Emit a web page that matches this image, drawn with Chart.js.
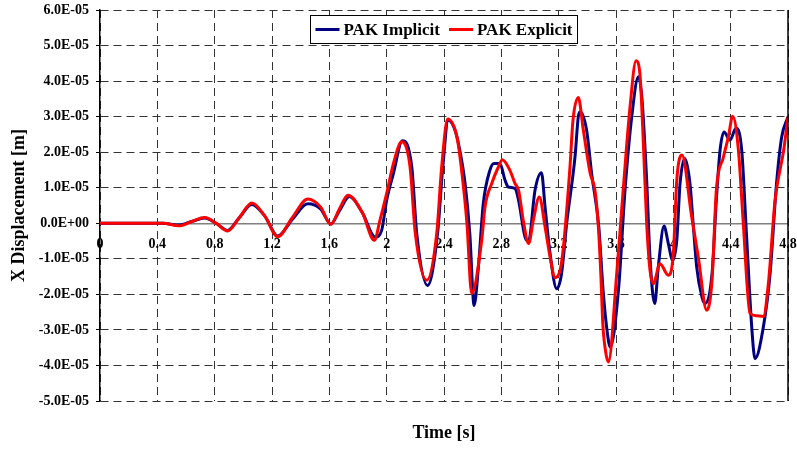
<!DOCTYPE html>
<html>
<head>
<meta charset="utf-8">
<title>X Displacement</title>
<script src="https://cdn.jsdelivr.net/npm/chart.js@4.4.1/dist/chart.umd.min.js"></script>
<style>
  body { margin: 0; background: #fff; }
  #chart { display: block; }
</style>
</head>
<body>
<canvas id="chart" width="797" height="450"></canvas>
<script>
const seriesNames = ["PAK Implicit", "PAK Explicit"];

// PAK Implicit - time [s] / displacement [m]
const timeImplicit = [0, 0.44, 0.55, 0.64, 0.73, 0.81, 0.89, 0.97, 1.06, 1.15, 1.24, 1.34, 1.45, 1.54, 1.61, 1.67, 1.74, 1.83, 1.92, 1.965,
    2.0, 2.047, 2.11, 2.175, 2.21, 2.285, 2.355, 2.39, 2.43, 2.477, 2.51, 2.547, 2.58, 2.61, 2.64, 2.674, 2.72, 2.749, 2.79, 2.826,
    2.849, 2.895, 2.92, 2.965, 2.99, 3.035, 3.08, 3.105, 3.14, 3.186, 3.22, 3.256, 3.314, 3.337, 3.35, 3.395, 3.43, 3.48, 3.51, 3.54,
    3.56, 3.617, 3.663, 3.71, 3.756, 3.78, 3.814, 3.837, 3.87, 3.895, 3.935, 3.965, 3.995, 4.024, 4.047, 4.08, 4.116, 4.14, 4.163, 4.2,
    4.22, 4.27, 4.3, 4.326, 4.354, 4.395, 4.437, 4.477, 4.51, 4.547, 4.57, 4.628, 4.675, 4.72, 4.756, 4.8];
const dispImplicit = [0, 0, -0.05e-5, 0.05e-5, 0.15e-5, 0, -0.2e-5, 0.15e-5, 0.53e-5, 0.2e-5, -0.36e-5, 0.1e-5, 0.55e-5, 0.4e-5, -0.02e-5, 0.35e-5, 0.75e-5, 0.3e-5, -0.39e-5, -0.2e-5,
    0.65e-5, 1.4e-5, 2.32e-5, 1.59e-5, -0.29e-5, -1.75e-5, -0.3e-5, 1.5e-5, 2.9e-5, 2.62e-5, 2.06e-5, 1.12e-5, -0.29e-5, -2.31e-5, -1.23e-5, 0.55e-5, 1.49e-5, 1.68e-5, 1.68e-5, 1.21e-5,
    1.02e-5, 0.98e-5, 0.65e-5, -0.38e-5, -0.5e-5, 0.93e-5, 1.42e-5, 0.46e-5, -0.85e-5, -1.84e-5, -1.42e-5, 0, 1.87e-5, 3.0e-5, 3.14e-5, 2.62e-5, 1.4e-5, -0.1e-5, -1.89e-5, -3.1e-5,
    -3.48e-5, -1.89e-5, 0.93e-5, 3.0e-5, 4.12e-5, 3.56e-5, 1.21e-5, -0.95e-5, -2.26e-5, -1.23e-5, -0.08e-5, -0.57e-5, -1.04e-5, -0.48e-5, 1.12e-5, 1.82e-5, 1.12e-5, -0.1e-5, -1.23e-5, -2.08e-5,
    -2.26e-5, -1.42e-5, 0.65e-5, 2.06e-5, 2.57e-5, 2.34e-5, 2.67e-5, 2.06e-5, -0.29e-5, -2.92e-5, -3.81e-5, -2.92e-5, -1.42e-5, 1.12e-5, 2.43e-5, 3.0e-5];

// PAK Explicit - time [s] / displacement [m]
const timeExplicit = [0, 0.44, 0.55, 0.64, 0.73, 0.81, 0.89, 0.97, 1.06, 1.15, 1.24, 1.34, 1.45, 1.54, 1.61, 1.67, 1.73, 1.83, 1.914, 1.953,
    2.0, 2.047, 2.105, 2.163, 2.2, 2.28, 2.349, 2.384, 2.426, 2.49, 2.52, 2.56, 2.593, 2.663, 2.686, 2.733, 2.78, 2.807, 2.86, 2.895,
    2.92, 2.953, 2.99, 3.023, 3.065, 3.105, 3.14, 3.175, 3.21, 3.233, 3.279, 3.3, 3.337, 3.372, 3.42, 3.453, 3.477, 3.494, 3.508, 3.53,
    3.547, 3.605, 3.65, 3.698, 3.74, 3.767, 3.79, 3.814, 3.837, 3.86, 3.907, 3.965, 4.0, 4.024, 4.06, 4.128, 4.174, 4.233, 4.27, 4.3,
    4.35, 4.384, 4.414, 4.454, 4.488, 4.535, 4.58, 4.628, 4.663, 4.71, 4.77, 4.8];
const dispExplicit = [0, 0, -0.07e-5, 0.05e-5, 0.16e-5, 0, -0.22e-5, 0.15e-5, 0.57e-5, 0.2e-5, -0.38e-5, 0.15e-5, 0.68e-5, 0.45e-5, -0.03e-5, 0.4e-5, 0.79e-5, 0.3e-5, -0.48e-5, 0.08e-5,
    0.84e-5, 1.68e-5, 2.29e-5, 1.59e-5, -0.29e-5, -1.6e-5, -0.29e-5, 1.59e-5, 2.93e-5, 2.43e-5, 1.59e-5, 0, -1.98e-5, -0.48e-5, 0.46e-5, 1.12e-5, 1.59e-5, 1.79e-5, 1.49e-5, 1.12e-5,
    0.93e-5, 0.08e-5, -0.57e-5, 0.08e-5, 0.74e-5, -0.1e-5, -0.95e-5, -1.53e-5, -1.32e-5, -0.67e-5, 1.59e-5, 2.9e-5, 3.54e-5, 2.62e-5, 1.4e-5, 0.93e-5, -0.1e-5, -1.42e-5, -2.83e-5, -3.67e-5,
    -3.9e-5, -1.42e-5, 0.93e-5, 3.28e-5, 4.57e-5, 4.2e-5, 2.34e-5, 0, -1.32e-5, -1.7e-5, -1.14e-5, -1.46e-5, -0.85e-5, 1.21e-5, 1.92e-5, 0.18e-5, -0.95e-5, -2.45e-5, -1.6e-5, 0.93e-5,
    1.87e-5, 2.43e-5, 3.01e-5, 2.06e-5, 0, -2.54e-5, -2.6e-5, -2.62e-5, -1.7e-5, 0.65e-5, 2.06e-5, 3.0e-5];

const lineColors = ["#000080", "#ff0000"];
const fontName = '"Liberation Serif", "Times New Roman", serif';

function toPoints(times, values) {
    return times.map((t, i) => ({ x: t, y: values[i] }));
}

// Excel style exponent labels: 6.0E-05, 0.0E+00
function expLabel(value) {
    if (Math.abs(value) < 1e-12) return "0.0E+00";
    const parts = value.toExponential(1).split("e");
    const exp = parseInt(parts[1], 10);
    return parts[0] + "E" + (exp < 0 ? "-" : "+") + String(Math.abs(exp)).padStart(2, "0");
}

// legend box inside the plot + solid right edge
const boxLegend = {
    id: "boxLegend",
    afterDatasetsDraw(chart) {
        const ctx = chart.ctx;
        const area = chart.chartArea;
        ctx.save();

        ctx.strokeStyle = "#000";
        ctx.lineWidth = 1.5;
        ctx.beginPath();
        ctx.moveTo(area.right, area.top);
        ctx.lineTo(area.right, area.bottom);
        ctx.stroke();

        ctx.font = "bold 17px " + fontName;
        const lineLen = 24, gap = 4, space = 9, pad = 5, h = 28;
        let w = pad * 2 + space * (seriesNames.length - 1);
        seriesNames.forEach(name => { w += lineLen + gap + ctx.measureText(name).width; });

        const x0 = Math.round((area.left + area.right) / 2 - w / 2) + 0.5;
        const y0 = area.top + 5.5;
        ctx.fillStyle = "#fff";
        ctx.fillRect(x0, y0, w, h);
        ctx.lineWidth = 1;
        ctx.strokeRect(x0, y0, w, h);

        let x = x0 + pad;
        const cy = y0 + h / 2;
        seriesNames.forEach((name, i) => {
            ctx.strokeStyle = lineColors[i];
            ctx.lineWidth = 3;
            ctx.beginPath();
            ctx.moveTo(x, cy);
            ctx.lineTo(x + lineLen, cy);
            ctx.stroke();
            x += lineLen + gap;
            ctx.fillStyle = "#000";
            ctx.textBaseline = "middle";
            ctx.fillText(name, x, cy + 1);
            x += ctx.measureText(name).width + space;
        });
        ctx.restore();
    }
};

new Chart(document.getElementById("chart"), {
    type: "line",
    data: {
        datasets: [{
            label: seriesNames[0],
            data: toPoints(timeImplicit, dispImplicit),
            borderColor: lineColors[0],
            borderWidth: 3,
            pointRadius: 0,
            cubicInterpolationMode: "monotone",
            order: 1
        }, {
            label: seriesNames[1],
            data: toPoints(timeExplicit, dispExplicit),
            borderColor: lineColors[1],
            borderWidth: 3,
            pointRadius: 0,
            cubicInterpolationMode: "monotone",
            order: 0
        }]
    },
    options: {
        responsive: false,
        animation: false,
        devicePixelRatio: 1,
        layout: { padding: { top: 10, right: 9, left: 0, bottom: 0 } },
        plugins: { legend: { display: false }, tooltip: { enabled: false } },
        scales: {
            x: {
                type: "linear",
                position: { y: 0 },
                min: 0,
                max: 4.8,
                ticks: {
                    stepSize: 0.4,
                    padding: 13,
                    color: "#000",
                    font: { family: fontName, size: 14, weight: "bold" },
                    callback: value => String(Math.round(value * 10) / 10)
                },
                grid: { color: "#333", lineWidth: 1, drawTicks: false },
                border: { display: true, color: "#808080", width: 1.5, dash: [8, 5] },
                afterFit(scale) { scale.paddingLeft = 0; scale.paddingRight = 0; }
            },
            xTitle: {
                type: "linear",
                position: "bottom",
                min: 0,
                max: 4.8,
                ticks: { display: false },
                grid: { display: false },
                border: { display: false },
                title: {
                    display: true,
                    text: "Time [s]",
                    color: "#000",
                    font: { family: fontName, size: 18, weight: "bold" },
                    padding: { top: 0, bottom: 6 }
                },
                afterFit(scale) { scale.height = 49; scale.paddingLeft = 0; scale.paddingRight = 0; }
            },
            y: {
                min: -5e-5,
                max: 6e-5,
                ticks: {
                    stepSize: 1e-5,
                    padding: 7,
                    color: "#000",
                    font: { family: fontName, size: 14, weight: "bold" },
                    callback: value => expLabel(value)
                },
                grid: { color: "#333", lineWidth: 1, tickLength: 4, tickColor: "#000" },
                border: { display: true, color: "#000", width: 1.5, dash: [8, 5] },
                title: {
                    display: true,
                    text: "X Displacement [m]",
                    color: "#000",
                    font: { family: fontName, size: 18, weight: "bold" },
                    padding: { top: 9, bottom: 0 }
                },
                afterFit(scale) { scale.width = 100; scale.paddingTop = 0; scale.paddingBottom = 0; }
            }
        }
    },
    plugins: [boxLegend]
});
</script>
</body>
</html>
